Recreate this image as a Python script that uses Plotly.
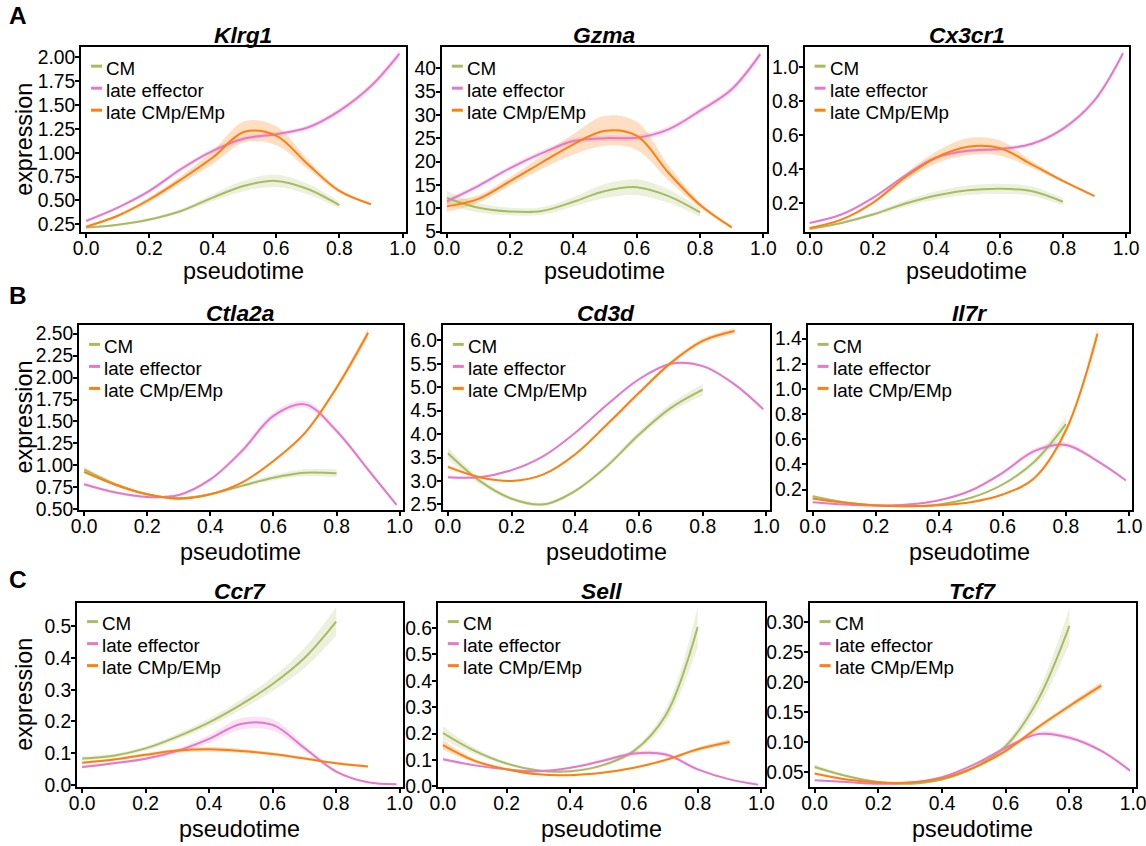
import plotly.graph_objects as go

# Page geometry: the browser keeps its default 8px body margin and the photographed page
# comes out at ~0.985 of page pixels, so target (reference) pixels are mapped accordingly.
REF_W, REF_H = 1146, 846
S = 0.985
PM = 8
FW = round(REF_W / S) - 2 * PM
FH = round(REF_H / S) - 2 * PM

# ---------------- data ----------------
series_names = ["CM", "late effector", "late CMp/EMp"]
genes = ["Klrg1", "Gzma", "Cx3cr1", "Ctla2a", "Cd3d", "Il7r", "Ccr7", "Sell", "Tcf7"]
panel_letters = ["A", "B", "C"]
x_tick_vals = [0.0, 0.2, 0.4, 0.6, 0.8, 1.0]

x_cm = [0.0, 0.1, 0.2, 0.3, 0.4, 0.5, 0.6, 0.7, 0.8]
x_eff = [0.0, 0.1, 0.2, 0.3, 0.4, 0.5, 0.6, 0.7, 0.8, 0.9, 0.99]
x_cmp = [0.0, 0.1, 0.2, 0.3, 0.4, 0.5, 0.6, 0.7, 0.8, 0.9]

# Klrg1
klrg1_cm = [0.215, 0.245, 0.30, 0.39, 0.53, 0.655, 0.705, 0.62, 0.45]
klrg1_cm_se = [0.012, 0.012, 0.015, 0.02, 0.035, 0.055, 0.065, 0.055, 0.035]
klrg1_eff = [0.285, 0.425, 0.60, 0.83, 1.02, 1.15, 1.195, 1.265, 1.44, 1.70, 2.04]
klrg1_eff_se = [0.015, 0.015, 0.02, 0.025, 0.025, 0.025, 0.025, 0.025, 0.03, 0.03, 0.04]
klrg1_cmp = [0.225, 0.34, 0.51, 0.72, 0.95, 1.22, 1.18, 0.88, 0.60, 0.46]
klrg1_cmp_se = [0.01, 0.015, 0.025, 0.04, 0.07, 0.11, 0.10, 0.05, 0.02, 0.01]

# Gzma
gzma_cm = [12.2, 10.1, 9.3, 9.4, 11.4, 13.7, 14.5, 12.6, 9.1]
gzma_cm_se = [1.5, 1.0, 0.8, 0.8, 1.0, 1.5, 1.7, 1.4, 0.9]
gzma_eff = [11.5, 14.8, 18.6, 21.8, 24.4, 25.0, 25.1, 26.9, 30.9, 35.5, 43.0]
gzma_eff_se = [0.6, 0.5, 0.5, 0.6, 0.6, 0.6, 0.6, 0.6, 0.6, 0.7, 0.8]
gzma_cmp = [10.4, 12.0, 15.8, 19.8, 23.7, 26.6, 25.5, 17.6, 10.7, 5.9]
gzma_cmp_se = [1.2, 0.8, 0.9, 1.4, 2.2, 3.2, 3.0, 1.6, 0.6, 0.3]

# Cx3cr1
cx3cr1_cm = [0.049, 0.085, 0.134, 0.197, 0.246, 0.276, 0.285, 0.272, 0.209]
cx3cr1_cm_se = [0.006, 0.008, 0.012, 0.018, 0.024, 0.028, 0.03, 0.028, 0.022]
cx3cr1_eff = [0.085, 0.134, 0.232, 0.36, 0.468, 0.508, 0.518, 0.547, 0.636, 0.803, 1.079]
cx3cr1_eff_se = [0.005, 0.006, 0.008, 0.01, 0.012, 0.012, 0.012, 0.012, 0.013, 0.015, 0.02]
cx3cr1_cmp = [0.055, 0.104, 0.203, 0.35, 0.468, 0.531, 0.524, 0.429, 0.331, 0.242]
cx3cr1_cmp_se = [0.004, 0.006, 0.01, 0.02, 0.035, 0.05, 0.045, 0.02, 0.008, 0.005]

# Ctla2a
ctla2a_cm = [0.955, 0.785, 0.671, 0.625, 0.671, 0.766, 0.86, 0.917, 0.91]
ctla2a_cm_se = [0.035, 0.02, 0.015, 0.015, 0.015, 0.02, 0.03, 0.04, 0.045]
ctla2a_eff = [0.785, 0.69, 0.64, 0.663, 0.84, 1.164, 1.563, 1.695, 1.392, 0.95, 0.55]
ctla2a_eff_se = [0.02, 0.015, 0.015, 0.015, 0.02, 0.03, 0.04, 0.04, 0.03, 0.02, 0.02]
ctla2a_cmp = [0.925, 0.777, 0.671, 0.621, 0.671, 0.804, 1.05, 1.37, 1.885, 2.51]
ctla2a_cmp_se = [0.015, 0.01, 0.01, 0.01, 0.01, 0.012, 0.015, 0.02, 0.03, 0.05]

# Cd3d
cd3d_cm = [3.59, 3.0, 2.62, 2.50, 2.79, 3.32, 3.99, 4.56, 4.95]
cd3d_cm_se = [0.12, 0.07, 0.04, 0.04, 0.04, 0.05, 0.07, 0.09, 0.12]
cd3d_eff = [3.08, 3.08, 3.23, 3.53, 4.03, 4.63, 5.17, 5.50, 5.45, 5.06, 4.53]
cd3d_eff_se = [0.03, 0.02, 0.02, 0.02, 0.02, 0.03, 0.03, 0.03, 0.03, 0.03, 0.03]
cd3d_cmp = [3.30, 3.08, 3.0, 3.14, 3.57, 4.21, 4.88, 5.52, 5.99, 6.20]
cd3d_cmp_se = [0.04, 0.02, 0.02, 0.02, 0.03, 0.03, 0.04, 0.04, 0.05, 0.06]

# Il7r
il7r_cm = [0.147, 0.099, 0.075, 0.067, 0.081, 0.134, 0.24, 0.42, 0.72]
il7r_cm_se = [0.012, 0.006, 0.004, 0.004, 0.005, 0.007, 0.012, 0.025, 0.06]
il7r_eff = [0.099, 0.081, 0.073, 0.081, 0.115, 0.192, 0.333, 0.505, 0.555, 0.426, 0.272]
il7r_eff_se = [0.005, 0.004, 0.004, 0.004, 0.006, 0.01, 0.015, 0.02, 0.02, 0.012, 0.008]
il7r_cmp = [0.128, 0.094, 0.073, 0.067, 0.075, 0.099, 0.16, 0.29, 0.67, 1.44]
il7r_cmp_se = [0.006, 0.004, 0.003, 0.003, 0.003, 0.004, 0.006, 0.01, 0.02, 0.05]

# Ccr7
ccr7_cm = [0.083, 0.092, 0.115, 0.152, 0.197, 0.253, 0.318, 0.40, 0.515]
ccr7_cm_se = [0.006, 0.006, 0.007, 0.009, 0.012, 0.016, 0.022, 0.032, 0.045]
ccr7_eff = [0.056, 0.068, 0.082, 0.107, 0.145, 0.192, 0.189, 0.116, 0.042, 0.008, 0.002]
ccr7_eff_se = [0.005, 0.004, 0.005, 0.007, 0.012, 0.018, 0.018, 0.01, 0.005, 0.002, 0.002]
ccr7_cmp = [0.07, 0.08, 0.095, 0.108, 0.112, 0.107, 0.097, 0.083, 0.068, 0.058]
ccr7_cmp_se = [0.004, 0.004, 0.005, 0.006, 0.007, 0.006, 0.005, 0.004, 0.004, 0.004]

# Sell
sell_cm = [0.202, 0.134, 0.086, 0.06, 0.057, 0.079, 0.134, 0.27, 0.604]
sell_cm_se = [0.025, 0.012, 0.006, 0.005, 0.005, 0.006, 0.01, 0.025, 0.075]
sell_eff = [0.102, 0.079, 0.064, 0.057, 0.07, 0.096, 0.124, 0.12, 0.064, 0.026, 0.006]
sell_eff_se = [0.006, 0.004, 0.003, 0.003, 0.004, 0.006, 0.009, 0.008, 0.005, 0.003, 0.002]
sell_cmp = [0.156, 0.096, 0.064, 0.045, 0.042, 0.051, 0.07, 0.10, 0.14, 0.168]
sell_cmp_se = [0.018, 0.007, 0.004, 0.003, 0.003, 0.003, 0.004, 0.005, 0.007, 0.01]

# Tcf7
tcf7_cm = [0.058, 0.043, 0.033, 0.030, 0.037, 0.057, 0.093, 0.169, 0.294]
tcf7_cm_se = [0.004, 0.002, 0.0015, 0.0015, 0.002, 0.003, 0.006, 0.014, 0.03]
tcf7_eff = [0.036, 0.033, 0.030, 0.032, 0.041, 0.062, 0.09, 0.113, 0.107, 0.085, 0.052]
tcf7_eff_se = [0.0015, 0.001, 0.001, 0.001, 0.0015, 0.002, 0.003, 0.004, 0.004, 0.003, 0.002]
tcf7_cmp = [0.047, 0.037, 0.032, 0.032, 0.039, 0.057, 0.085, 0.124, 0.16, 0.194]
tcf7_cmp_se = [0.002, 0.0015, 0.001, 0.001, 0.0015, 0.002, 0.003, 0.004, 0.004, 0.006]

panel_data = [
    (klrg1_cm, klrg1_cm_se, klrg1_eff, klrg1_eff_se, klrg1_cmp, klrg1_cmp_se),
    (gzma_cm, gzma_cm_se, gzma_eff, gzma_eff_se, gzma_cmp, gzma_cmp_se),
    (cx3cr1_cm, cx3cr1_cm_se, cx3cr1_eff, cx3cr1_eff_se, cx3cr1_cmp, cx3cr1_cmp_se),
    (ctla2a_cm, ctla2a_cm_se, ctla2a_eff, ctla2a_eff_se, ctla2a_cmp, ctla2a_cmp_se),
    (cd3d_cm, cd3d_cm_se, cd3d_eff, cd3d_eff_se, cd3d_cmp, cd3d_cmp_se),
    (il7r_cm, il7r_cm_se, il7r_eff, il7r_eff_se, il7r_cmp, il7r_cmp_se),
    (ccr7_cm, ccr7_cm_se, ccr7_eff, ccr7_eff_se, ccr7_cmp, ccr7_cmp_se),
    (sell_cm, sell_cm_se, sell_eff, sell_eff_se, sell_cmp, sell_cmp_se),
    (tcf7_cm, tcf7_cm_se, tcf7_eff, tcf7_eff_se, tcf7_cmp, tcf7_cmp_se),
]

# ---------------- layout / style ----------------
FONT = "Arial, 'Liberation Sans', Helvetica, sans-serif"
line_colors = ["#a9bb62", "#e579c9", "#ff7f0e"]
fill_colors = ["rgba(169,187,98,0.22)", "rgba(229,121,201,0.22)", "rgba(255,127,14,0.25)"]
x_series = [x_cm, x_eff, x_cmp]


def px(x):  # reference pixel -> paper fraction (horizontal)
    return (x / S - PM) / FW


def py(y):  # reference pixel -> paper fraction (vertical)
    return 1 - (y / S - PM) / FH


def fs(size):  # reference font size -> page font size
    return round(size / S, 1)


# plot boxes in reference pixels: (left, right, top, bottom)
boxes = [(81, 406, 53, 238), (442, 767, 53, 238), (805, 1130, 53, 238),
         (79, 403, 331, 515), (443, 770, 331, 515), (808, 1133, 331, 515),
         (77, 403, 608, 792), (438, 765, 608, 792), (810, 1137, 608, 792)]
xtitle_offset = [39, 42, 42]
y_ranges = [(0.166, 2.108), (4.85, 44.5), (0.030, 1.115),
            (0.497, 2.595), (2.39, 6.32), (0.041, 1.506),
            (-0.006, 0.575), (-0.002, 0.697), (0.025, 0.333)]
y_ticks = [(0.25, 0.25, ".2f"), (5, 5, "d"), (0.2, 0.2, ".1f"),
           (0.5, 0.25, ".2f"), (2.5, 0.5, ".1f"), (0.2, 0.2, ".1f"),
           (0, 0.1, ".1f"), (0, 0.1, ".1f"), (0.05, 0.05, ".2f")]

fig = go.Figure()
annotations = []
shapes = []
layout_extra = {}

for i, gene in enumerate(genes):
    sfx = "" if i == 0 else str(i + 1)
    xa, ya = "x" + sfx, "y" + sfx
    d = panel_data[i]
    vals = [d[0], d[2], d[4]]
    ses = [d[1], d[3], d[5]]
    # confidence ribbons
    for k in range(3):
        xs = x_series[k]
        up = [v + s for v, s in zip(vals[k], ses[k])]
        lo = [v - s for v, s in zip(vals[k], ses[k])]
        fig.add_trace(go.Scatter(x=xs, y=up, mode="lines", line=dict(width=0, shape="spline"),
                                 xaxis=xa, yaxis=ya, showlegend=False, hoverinfo="skip"))
        fig.add_trace(go.Scatter(x=xs, y=lo, mode="lines", line=dict(width=0, shape="spline"),
                                 fill="tonexty", fillcolor=fill_colors[k],
                                 xaxis=xa, yaxis=ya, showlegend=False, hoverinfo="skip"))
    # fitted lines
    for k in range(3):
        fig.add_trace(go.Scatter(x=x_series[k], y=vals[k], mode="lines",
                                 line=dict(color=line_colors[k], width=2, shape="spline"),
                                 xaxis=xa, yaxis=ya, showlegend=False, name=series_names[k]))

    L, R, T, B = boxes[i]
    t0, dt, fmt = y_ticks[i]
    axis_common = dict(showline=True, linecolor="black", linewidth=2, mirror=True,
                       ticks="outside", ticklen=4, tickwidth=1.5, tickcolor="black",
                       showgrid=False, zeroline=False,
                       tickfont=dict(family=FONT, size=fs(19), color="black"))
    layout_extra["xaxis" + sfx] = dict(
        domain=[px(L), px(R)], anchor=ya, range=[-0.016, 1.01],
        tickvals=x_tick_vals, tickformat=".1f", ticklabelstandoff=-6, **axis_common)
    layout_extra["yaxis" + sfx] = dict(
        domain=[py(B), py(T)], anchor=xa, range=list(y_ranges[i]),
        tick0=t0, dtick=dt, tickformat=fmt, ticklabelstandoff=-4, **axis_common)

    # gene title
    annotations.append(dict(text="<b><i>" + gene + "</i></b>", x=px((L + R) / 2), y=py(T - 12),
                            xref="paper", yref="paper", xanchor="center", yanchor="middle",
                            showarrow=False, font=dict(family=FONT, size=fs(22.5), color="black")))
    # axis titles
    row = i // 3
    annotations.append(dict(text="pseudotime", x=px((L + R) / 2), y=py(B + xtitle_offset[row]),
                            xref="paper", yref="paper", xanchor="center", yanchor="middle",
                            showarrow=False, font=dict(family=FONT, size=fs(23), color="black")))
    if i % 3 == 0:
        annotations.append(dict(text="expression", x=px(24), y=py((T + B) / 2), textangle=-90,
                                xref="paper", yref="paper", xanchor="center", yanchor="middle",
                                showarrow=False, font=dict(family=FONT, size=fs(23), color="black")))
    # legend (key + label)
    for k in range(3):
        yk = T + 19 + 22 * k
        shapes.append(dict(type="line", xref="paper", yref="paper",
                           x0=px(L + 10), x1=px(L + 21), y0=py(yk), y1=py(yk),
                           line=dict(color=line_colors[k], width=3)))
        annotations.append(dict(text=series_names[k], x=px(L + 23), y=py(yk + 2),
                                xref="paper", yref="paper", xanchor="left", yanchor="middle",
                                showarrow=False, font=dict(family=FONT, size=fs(18.5), color="black")))

letter_pos = [(18, 21), (18, 301), (18, 585)]
for j, letter in enumerate(panel_letters):
    lx, ly = letter_pos[j]
    annotations.append(dict(text="<b>" + letter + "</b>", x=px(lx), y=py(ly),
                            xref="paper", yref="paper", xanchor="center", yanchor="middle",
                            showarrow=False, font=dict(family=FONT, size=fs(24), color="black")))

fig.update_layout(width=FW, height=FH, margin=dict(l=0, r=0, t=0, b=0),
                  paper_bgcolor="white", plot_bgcolor="white", showlegend=False,
                  annotations=annotations, shapes=shapes, **layout_extra)

fig.write_html("out.html")
